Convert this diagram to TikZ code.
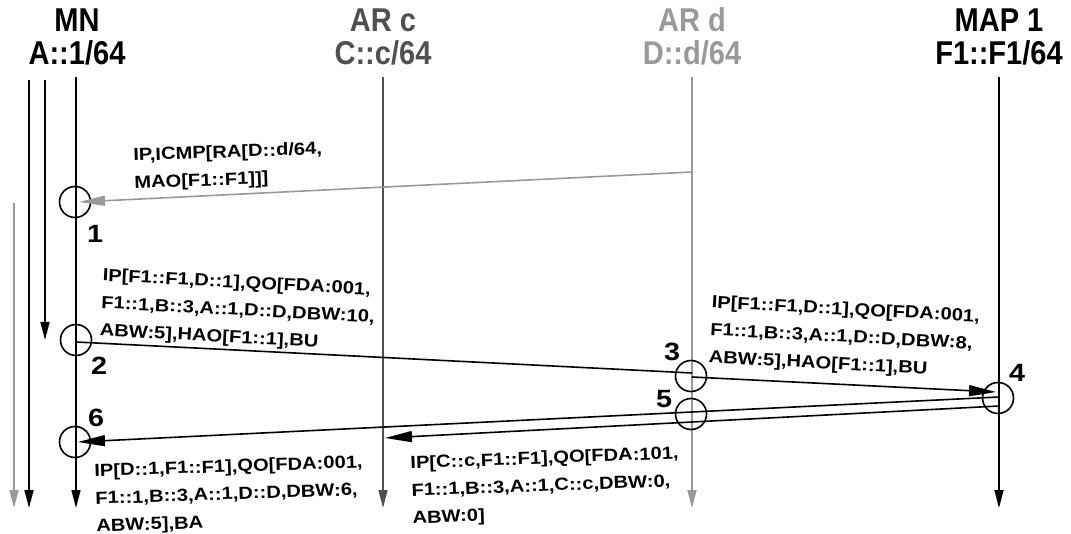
\documentclass[tikz,border=0pt]{standalone}
\usepackage{fontspec}
\setmainfont{Liberation Sans}
\newfontfamily\headfont[FakeStretch=0.88]{Liberation Sans}
\newfontfamily\labfont[FakeStretch=1.15]{Liberation Sans}
\usetikzlibrary{arrows.meta}
\definecolor{lgray}{HTML}{999999}
\definecolor{dgray}{HTML}{505050}
\tikzset{
  head/.style={font={\headfont\bfseries\fontsize{33}{33}\selectfont}, align=center, inner sep=0pt, anchor=base},
  lab/.style={font={\labfont\bfseries\fontsize{17.5}{27.5}\selectfont}, align=left, inner sep=0pt, anchor=north west},
  num/.style={font={\labfont\bfseries\fontsize{25}{25}\selectfont}, inner sep=0pt},
  life/.style={line width=1.6pt, -{Triangle[length=18pt,width=9pt]}},
  msg/.style={line width=1.6pt},
  msgarr/.style={line width=1.6pt, -{Triangle[length=27pt,width=11pt]}},
  ring/.style={circle, draw, line width=1.6pt, minimum size=31pt, inner sep=0pt},
}
\begin{document}
\begin{tikzpicture}[x=1pt,y=-1pt]
\useasboundingbox (0,0) rectangle (1071,534);
% headers
\node[head] (hmn1) at (77,32) {MN};
\node[head] (hmn2) at (77,65) {A::1/64};
\node[head, text=dgray] (hc1) at (383,32) {AR c};
\node[head, text=dgray] (hc2) at (383,65) {C::c/64};
\node[head, text=lgray] (hd1) at (692,32) {AR d};
\node[head, text=lgray] (hd2) at (692,65) {D::d/64};
\node[head] (hm1) at (999,32) {MAP 1};
\node[head] (hm2) at (999,65) {F1::F1/64};
% lifelines
\coordinate (mnT) at (76,77);  \coordinate (mnB) at (76,508);
\coordinate (l1T) at (29,80);  \coordinate (l1B) at (29,508);
\coordinate (l2T) at (45,80);  \coordinate (l2B) at (45,340);
\coordinate (l3T) at (14,203); \coordinate (l3B) at (14,508);
\coordinate (arcT) at (383,77); \coordinate (arcB) at (383,508);
\coordinate (ardT) at (692,77); \coordinate (ardB) at (692,508);
\coordinate (mapT) at (999,77); \coordinate (mapB) at (999,508);
\draw[life] (mnT) -- (mnB);
\draw[life] (l1T) -- (l1B);
\draw[life] (l2T) -- (l2B);
\draw[life, lgray] (l3T) -- (l3B);
\draw[life, dgray] (arcT) -- (arcB);
\draw[life, lgray] (ardT) -- (ardB);
\draw[life] (mapT) -- (mapB);
% circles
\node[ring] (c1) at (75,202) {};
\node[ring] (c2) at (76,340) {};
\node[ring] (c3) at (691,376) {};
\node[ring] (c4) at (998,398) {};
\node[ring] (c5) at (691,414) {};
\node[ring] (c6) at (75,442) {};
\node[num] (n1) at (95,234) {1};
\node[num] (n2) at (99,366) {2};
\node[num] (n3) at (672,352) {3};
\node[num] (n4) at (1017,373) {4};
\node[num] (n5) at (664,399) {5};
\node[num] (n6) at (96,418) {6};
% message endpoints
\coordinate (m1s) at (692,172); \coordinate (m1e) at (79,202);
\coordinate (m2s) at (76,342);  \coordinate (m2e) at (692,373);
\coordinate (m3s) at (692,377); \coordinate (m3e) at (996,392);
\coordinate (m4s) at (999,397); \coordinate (m4e) at (78,442);
\coordinate (m5s) at (999,406); \coordinate (m5e) at (385,438);
\draw[msgarr, lgray, -{Triangle[length=26pt,width=10pt]}] (m1s) -- (m1e);
\draw[msg] (m2s) -- (m2e);
\draw[msgarr] (m3s) -- (m3e);
\draw[msgarr] (m4s) -- (m4e);
\draw[msgarr] (m5s) -- (m5e);
% labels
\node[lab, rotate=2] (t1) at (133,148) {IP,ICMP[RA[D::d/64,\\MAO[F1::F1]]]};
\node[lab, rotate=-3] (t2) at (103,268) {IP[F1::F1,D::1],QO[FDA:001,\\F1::1,B::3,A::1,D::D,DBW:10,\\ABW:5],HAO[F1::1],BU};
\node[lab, rotate=-3] (t4) at (712,295) {IP[F1::F1,D::1],QO[FDA:001,\\F1::1,B::3,A::1,D::D,DBW:8,\\ABW:5],HAO[F1::1],BU};
\node[lab, rotate=2.2] (t5) at (410,456) {IP[C::c,F1::F1],QO[FDA:101,\\F1::1,B::3,A::1,C::c,DBW:0,\\ABW:0]};
\node[lab, rotate=2] (t6) at (94,464) {IP[D::1,F1::F1],QO[FDA:001,\\F1::1,B::3,A::1,D::D,DBW:6,\\ABW:5],BA};
\end{tikzpicture}
\end{document}
